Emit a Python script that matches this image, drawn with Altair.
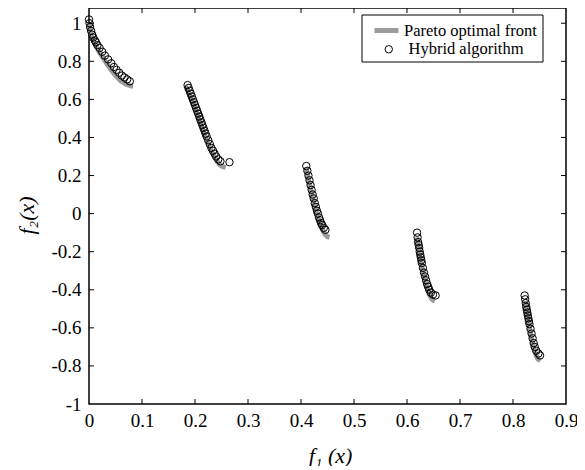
import altair as alt
import pandas as pd

# ---- Pareto optimal front (five disconnected segments) ----
front_seg1_f1 = [0.0, 0.002, 0.005, 0.01, 0.02, 0.03, 0.04, 0.05, 0.06, 0.07, 0.08, 0.083]
front_seg1_f2 = [1.0, 0.955, 0.929, 0.897, 0.847, 0.803, 0.762, 0.726, 0.698, 0.679, 0.670, 0.670]
front_seg2_f1 = [0.1822, 0.185, 0.19, 0.195, 0.20, 0.205, 0.21, 0.215, 0.22, 0.225, 0.23, 0.235, 0.24, 0.245, 0.25, 0.2578]
front_seg2_f2 = [0.670, 0.654, 0.623, 0.589, 0.553, 0.515, 0.477, 0.439, 0.402, 0.367, 0.334, 0.306, 0.282, 0.263, 0.250, 0.242]
front_seg3_f1 = [0.4093, 0.415, 0.42, 0.425, 0.43, 0.435, 0.44, 0.445, 0.45, 0.4539]
front_seg3_f2 = [0.242, 0.167, 0.105, 0.048, -0.004, -0.047, -0.082, -0.107, -0.121, -0.124]
front_seg4_f1 = [0.6184, 0.622, 0.626, 0.63, 0.634, 0.638, 0.642, 0.646, 0.65, 0.6525]
front_seg4_f2 = [-0.124, -0.185, -0.248, -0.303, -0.352, -0.392, -0.423, -0.445, -0.456, -0.458]
front_seg5_f1 = [0.8233, 0.827, 0.831, 0.835, 0.839, 0.843, 0.847, 0.8518]
front_seg5_f2 = [-0.458, -0.530, -0.599, -0.658, -0.705, -0.741, -0.764, -0.773]

# ---- Hybrid algorithm solutions ----
hyb_f1 = [
    0.000, 0.001, 0.002, 0.004, 0.006, 0.008, 0.011, 0.013, 0.016, 0.020, 0.025,
    0.030, 0.036, 0.042, 0.047, 0.052, 0.057, 0.062, 0.067, 0.072, 0.077,
    0.186, 0.188, 0.190, 0.192, 0.194, 0.196, 0.198, 0.200, 0.202, 0.204, 0.206,
    0.208, 0.210, 0.212, 0.214, 0.216, 0.218, 0.220, 0.222, 0.225, 0.228, 0.231,
    0.234, 0.237, 0.240, 0.244, 0.248, 0.265,
    0.410, 0.412, 0.414, 0.416, 0.418, 0.420, 0.422, 0.424, 0.426, 0.428, 0.430,
    0.432, 0.434, 0.436, 0.438, 0.440, 0.443, 0.446,
    0.619, 0.620, 0.621, 0.622, 0.623, 0.624, 0.625, 0.626, 0.627, 0.628, 0.630,
    0.632, 0.634, 0.636, 0.638, 0.640, 0.642, 0.645, 0.649, 0.654,
    0.822, 0.823, 0.824, 0.825, 0.826, 0.827, 0.828, 0.829, 0.830, 0.831, 0.833,
    0.835, 0.837, 0.839, 0.841, 0.844, 0.848, 0.851,
]
hyb_f2 = [
    1.02, 1.00, 0.98, 0.96, 0.94, 0.925, 0.91, 0.90, 0.885, 0.87, 0.85,
    0.83, 0.81, 0.79, 0.77, 0.755, 0.74, 0.725, 0.715, 0.705, 0.695,
    0.675, 0.66, 0.645, 0.63, 0.615, 0.60, 0.585, 0.57, 0.555, 0.54, 0.525,
    0.51, 0.495, 0.48, 0.465, 0.45, 0.435, 0.42, 0.405, 0.385, 0.365, 0.345,
    0.33, 0.315, 0.30, 0.285, 0.275, 0.27,
    0.25, 0.225, 0.20, 0.175, 0.15, 0.125, 0.10, 0.08, 0.055, 0.035, 0.015,
    0.00, -0.02, -0.035, -0.05, -0.06, -0.075, -0.085,
    -0.10, -0.125, -0.15, -0.165, -0.18, -0.20, -0.215, -0.23, -0.245, -0.26, -0.285,
    -0.31, -0.33, -0.35, -0.37, -0.385, -0.40, -0.415, -0.425, -0.43,
    -0.43, -0.45, -0.47, -0.49, -0.505, -0.52, -0.535, -0.55, -0.565, -0.58, -0.605,
    -0.63, -0.655, -0.68, -0.70, -0.72, -0.735, -0.745,
]

x_labels = [0.0, 0.1, 0.2, 0.3, 0.4, 0.5, 0.6, 0.7, 0.8, 0.9]
y_labels = [-1.0, -0.8, -0.6, -0.4, -0.2, 0.0, 0.2, 0.4, 0.6, 0.8, 1.0]
x_inner_ticks = [0.1, 0.2, 0.3, 0.4, 0.5, 0.6, 0.7, 0.8]
y_inner_ticks = [-0.8, -0.6, -0.4, -0.2, 0.0, 0.2, 0.4, 0.6, 0.8, 1.0]

FRONT = "Pareto optimal front"
HYB = "Hybrid algorithm"

rows = []
for seg, (xs, ys) in enumerate([(front_seg1_f1, front_seg1_f2), (front_seg2_f1, front_seg2_f2),
                                (front_seg3_f1, front_seg3_f2), (front_seg4_f1, front_seg4_f2),
                                (front_seg5_f1, front_seg5_f2)]):
    for a, b in zip(xs, ys):
        rows.append({"f1": a, "f2": b, "seg": seg, "series": FRONT})
front_df = pd.DataFrame(rows)
hyb_df = pd.DataFrame({"f1": hyb_f1, "f2": hyb_f2, "series": HYB})
xt_df = pd.DataFrame({"f1": x_inner_ticks})
yt_df = pd.DataFrame({"f2": y_inner_ticks})

W, H = 477, 396
SERIF = "Liberation Serif"

xscale = alt.Scale(domain=[0, 0.9], nice=False, zero=False)
yscale = alt.Scale(domain=[-1, 1.08], nice=False, zero=False)

x_axis = alt.Axis(values=x_labels, labelExpr="toString(round(datum.value*10)/10)",
                  title="f\u2081 (x)", titleX=241, titleY=51, titleBaseline="middle",
                  titleAlign="center", labelPadding=7, labelFlush=False, grid=False,
                  domain=False, ticks=False,
                  labelFont=SERIF, labelFontSize=19, labelColor="black",
                  titleFont=SERIF, titleFontSize=22, titleFontStyle="italic",
                  titleFontWeight="normal", titleColor="black")
y_axis = alt.Axis(values=y_labels, labelExpr="toString(round(datum.value*10)/10)",
                  title="f\u2082(x)", titleX=-63, titleY=207, titleBaseline="middle",
                  titleAlign="center", titleAngle=270, labelPadding=8, labelFlush=False,
                  grid=False, domain=False,
                  ticks=False, labelFont=SERIF, labelFontSize=19, labelColor="black",
                  titleFont=SERIF, titleFontSize=22, titleFontStyle="italic",
                  titleFontWeight="normal", titleColor="black")

X = alt.X("f1:Q", scale=xscale, axis=x_axis)
Y = alt.Y("f2:Q", scale=yscale, axis=y_axis)

line = alt.Chart(front_df).mark_line(strokeWidth=5, strokeCap="butt").encode(
    x=X, y=Y, detail="seg:N", order="f1:Q",
    color=alt.Color("series:N", scale=alt.Scale(domain=[FRONT], range=["#9b9b9b"]),
                    legend=alt.Legend(title=None, orient="none", legendX=283, legendY=8,
                                      symbolType="stroke", symbolSize=576, symbolStrokeWidth=5,
                                      labelOffset=3, padding=0,
                                      labelFont=SERIF, labelFontSize=16.5, labelColor="black")),
)

points = alt.Chart(hyb_df).mark_point(shape="circle", filled=False, size=55, strokeWidth=1,
                                      color="black", opacity=1).encode(
    x=X, y=Y,
    shape=alt.Shape("series:N", scale=alt.Scale(domain=[HYB], range=["circle"]),
                    legend=alt.Legend(title=None, orient="none", legendX=291.5, legendY=33,
                                      symbolSize=55, symbolStrokeColor="black",
                                      symbolStrokeWidth=1, symbolFillColor="transparent",
                                      labelOffset=11.5, padding=0,
                                      labelFont=SERIF, labelFontSize=16.5, labelColor="black")),
)

legend_box = alt.Chart(pd.DataFrame({"a": [0]})).mark_rect(
    fill="white", stroke="black", strokeWidth=1).encode(
    x=alt.value(273), x2=alt.value(454), y=alt.value(7), y2=alt.value(54))

tick_kw = dict(color="black", strokeWidth=1)
xt_bottom = alt.Chart(xt_df).mark_rule(**tick_kw).encode(x=X, y=alt.value(H), y2=alt.value(H - 5))
xt_top = alt.Chart(xt_df).mark_rule(**tick_kw).encode(x=X, y=alt.value(0), y2=alt.value(5))
yt_left = alt.Chart(yt_df).mark_rule(**tick_kw).encode(y=Y, x=alt.value(0), x2=alt.value(5))
yt_right = alt.Chart(yt_df).mark_rule(**tick_kw).encode(y=Y, x=alt.value(W), x2=alt.value(W - 5))

chart = alt.layer(line, points, legend_box, xt_bottom, xt_top, yt_left, yt_right).properties(
    width=W, height=H,
    background="white",
    autosize=alt.AutoSizeParams(type="none"),
    padding={"left": 81, "top": 0, "right": 11, "bottom": 62},
).configure_view(stroke="black", strokeWidth=1.5)

chart.save("out.html", embed_options={"renderer": "svg", "actions": False})
